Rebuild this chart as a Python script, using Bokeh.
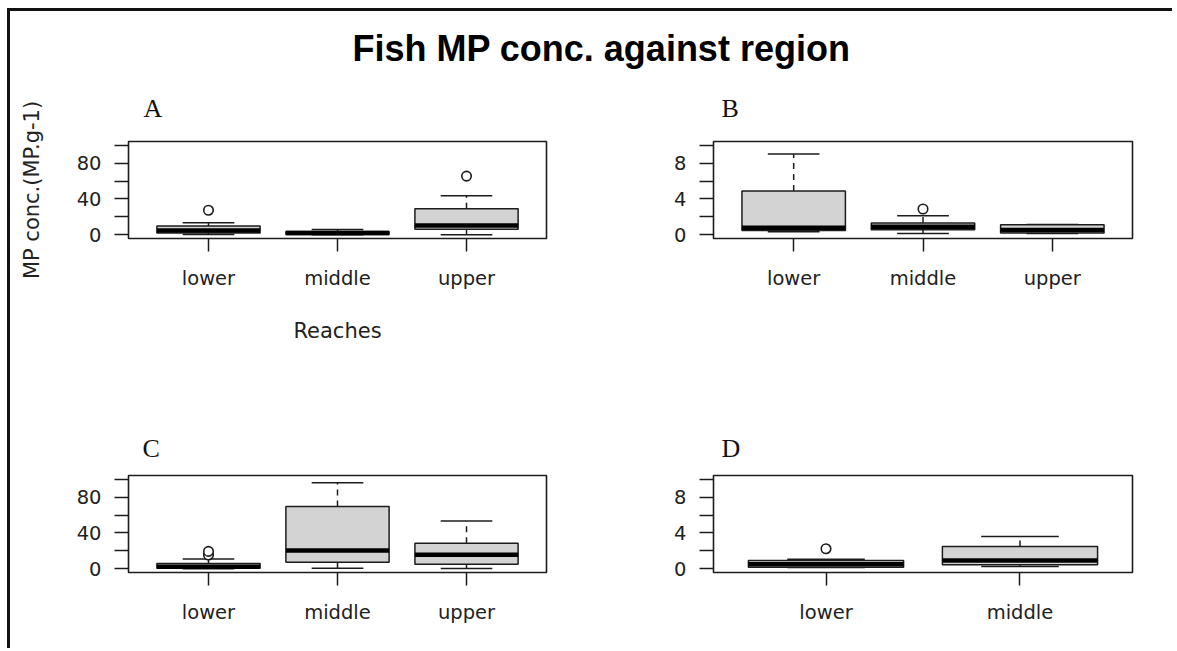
from bokeh.plotting import figure
from bokeh.models import Range1d, FixedTicker, Label, Spacer
from bokeh.layouts import column, row
from bokeh.embed import file_html
from bokeh.resources import INLINE

# ---------------- data ----------------
reaches_3 = ["lower", "middle", "upper"]
reaches_2 = ["lower", "middle"]

# Panel A (MP.g-1, 0-100 scale)
A_low = [0.4, 0.1, 0.3]
A_q1 = [2.1, 0.5, 6.3]
A_med = [4.8, 2.0, 10.5]
A_q3 = [9.8, 3.8, 29.1]
A_high = [13.5, 6.0, 43.5]
A_out_cat = [1, 3]
A_out_val = [27.5, 65.5]

# Panel B (0-10 scale)
B_low = [0.35, 0.17, 0.15]
B_q1 = [0.5, 0.58, 0.2]
B_med = [0.8, 0.9, 0.55]
B_q3 = [4.9, 1.32, 1.13]
B_high = [9.0, 2.13, 1.15]
B_out_cat = [2]
B_out_val = [2.88]

# Panel C (0-100 scale)
C_low = [0.3, 0.8, 0.5]
C_q1 = [0.6, 7.5, 5.3]
C_med = [2.5, 20.5, 15.9]
C_q3 = [6.1, 69.4, 28.6]
C_high = [11.0, 96.0, 53.3]
C_out_cat = [1, 1]
C_out_val = [15.5, 19.5]

# Panel D (0-10 scale)
D_low = [0.15, 0.27]
D_q1 = [0.19, 0.46]
D_med = [0.52, 0.94]
D_q3 = [0.94, 2.49]
D_high = [1.08, 3.6]
D_out_cat = [1]
D_out_val = [2.24]

y_ticks_100 = [0, 40, 80]
y_minor_100 = [20, 60, 100]
y_ticks_10 = [0, 4, 8]
y_minor_10 = [2, 6, 10]

title_text = "Fish MP conc. against region"
y_label = "MP conc.(MP.g-1)"
x_label = "Reaches"

# ---------------- styling ----------------
INK = "#1c1c1c"
TXT = "#222222"
BOX_FILL = "#d3d3d3"
SANS = "DejaVu Sans"


def panel(cats, lo, q1, med, q3, hi, out_c, out_v, ylim, ticks, minor,
          width, height, mbl, mbr, mbt, mbb, letter, letter_offset,
          letter_standoff, xlab=None, ylab=None):
    n = len(cats)
    pos = list(range(1, n + 1))
    x0, x1 = 0.5 - 0.04 * n, n + 0.5 + 0.04 * n
    span = ylim[1] - ylim[0]
    y0, y1 = ylim[0] - 0.04 * span, ylim[1] + 0.04 * span
    p = figure(width=width, height=height, x_range=Range1d(x0, x1),
               y_range=Range1d(y0, y1), toolbar_location=None,
               output_backend="svg", min_border_left=mbl, min_border_right=mbr,
               min_border_top=mbt, min_border_bottom=mbb)
    p.grid.visible = False
    p.outline_line_color = INK
    p.outline_line_width = 1.6
    p.background_fill_color = "white"
    p.border_fill_color = None

    # panel letter as the figure title
    p.title.text = letter
    p.title.align = "left"
    p.title.offset = letter_offset
    p.title.standoff = letter_standoff
    p.title.text_font = "Liberation Serif"
    p.title.text_font_size = "26px"
    p.title.text_font_style = "normal"
    p.title.text_color = "#111111"

    half_staple = 0.2
    half_box = 0.4
    # whiskers
    p.segment(x0=pos, y0=q3, x1=pos, y1=hi, line_color=INK, line_width=1.5,
              line_dash="6 5")
    p.segment(x0=pos, y0=q1, x1=pos, y1=lo, line_color=INK, line_width=1.5,
              line_dash="6 5")
    # staples
    p.segment(x0=[c - half_staple for c in pos], y0=hi,
              x1=[c + half_staple for c in pos], y1=hi,
              line_color=INK, line_width=1.5)
    p.segment(x0=[c - half_staple for c in pos], y0=lo,
              x1=[c + half_staple for c in pos], y1=lo,
              line_color=INK, line_width=1.5)
    # boxes
    p.vbar(x=pos, width=2 * half_box, bottom=q1, top=q3, fill_color=BOX_FILL,
           line_color=INK, line_width=1.5)
    # medians
    p.segment(x0=[c - half_box for c in pos], y0=med,
              x1=[c + half_box for c in pos], y1=med,
              line_color="black", line_width=4.5, line_cap="butt")
    # outliers
    if out_c:
        p.scatter(x=out_c, y=out_v, marker="circle", size=9.5,
                  fill_color="white", line_color=INK, line_width=1.6)

    # axes
    xa = p.xaxis[0]
    ya = p.yaxis[0]
    xa.ticker = FixedTicker(ticks=pos)
    xa.major_label_overrides = {c: name for c, name in zip(pos, cats)}
    ya.ticker = FixedTicker(ticks=ticks, minor_ticks=minor)
    for ax in (xa, ya):
        ax.axis_line_color = None
        ax.major_tick_in = 0
        ax.minor_tick_in = 0
        ax.major_tick_line_color = INK
        ax.major_tick_line_width = 1.5
        ax.minor_tick_line_color = INK
        ax.minor_tick_line_width = 1.5
        ax.major_label_text_font = SANS
        ax.major_label_text_font_size = "19.5px"
        ax.major_label_text_color = TXT
        ax.axis_label_text_font = SANS
        ax.axis_label_text_font_size = "21px"
        ax.axis_label_text_font_style = "normal"
        ax.axis_label_text_color = TXT
    xa.major_tick_out = 13
    xa.minor_tick_out = 0
    xa.major_label_standoff = 15
    ya.major_tick_out = 14
    ya.minor_tick_out = 14
    ya.major_label_standoff = 13
    if xlab:
        xa.axis_label = xlab
        xa.axis_label_standoff = 26
    if ylab:
        ya.axis_label = ylab
        ya.axis_label_standoff = 30
    return p


pA = panel(reaches_3, A_low, A_q1, A_med, A_q3, A_high, A_out_cat, A_out_val,
           (0, 100), y_ticks_100, y_minor_100, 610, 327, 118, 74, 68, 162,
           "A", 15, 36.5, xlab=x_label, ylab=y_label)
pB = panel(reaches_3, B_low, B_q1, B_med, B_q3, B_high, B_out_cat, B_out_val,
           (0, 10), y_ticks_10, y_minor_10, 552, 327, 93, 40, 68, 162,
           "B", 8, 36.5)
pC = panel(reaches_3, C_low, C_q1, C_med, C_q3, C_high, C_out_cat, C_out_val,
           (0, 100), y_ticks_100, y_minor_100, 610, 248, 118, 74, 75, 76,
           "C", 14, 25)
pD = panel(reaches_2, D_low, D_q1, D_med, D_q3, D_high, D_out_cat, D_out_val,
           (0, 10), y_ticks_10, y_minor_10, 552, 248, 93, 40, 75, 76,
           "D", 8, 25)

# title strip
tf = figure(width=1162, height=62, x_range=Range1d(0, 1162),
            y_range=Range1d(0, 62), toolbar_location=None,
            output_backend="svg", min_border=0,
            x_axis_location=None, y_axis_location=None)
tf.grid.visible = False
tf.outline_line_color = None
tf.add_layout(Label(x=591, y=25.5, text=title_text, text_font="Liberation Sans",
                    text_font_style="bold", text_font_size="36px",
                    text_color="#000000", text_align="center",
                    text_baseline="middle"))

top_line = Spacer(width=1165, height=3, styles={"background-color": "#111111"})
left_line = Spacer(width=3, height=637, styles={"background-color": "#111111"})

body = column(tf, row(pA, pB), row(pC, pD))
framed = column(top_line, row(left_line, body))
layout = column(Spacer(width=1172, height=8),
                row(Spacer(width=7, height=640), framed))

with open("out.html", "w", encoding="utf-8") as f:
    f.write(file_html(layout, INLINE))
